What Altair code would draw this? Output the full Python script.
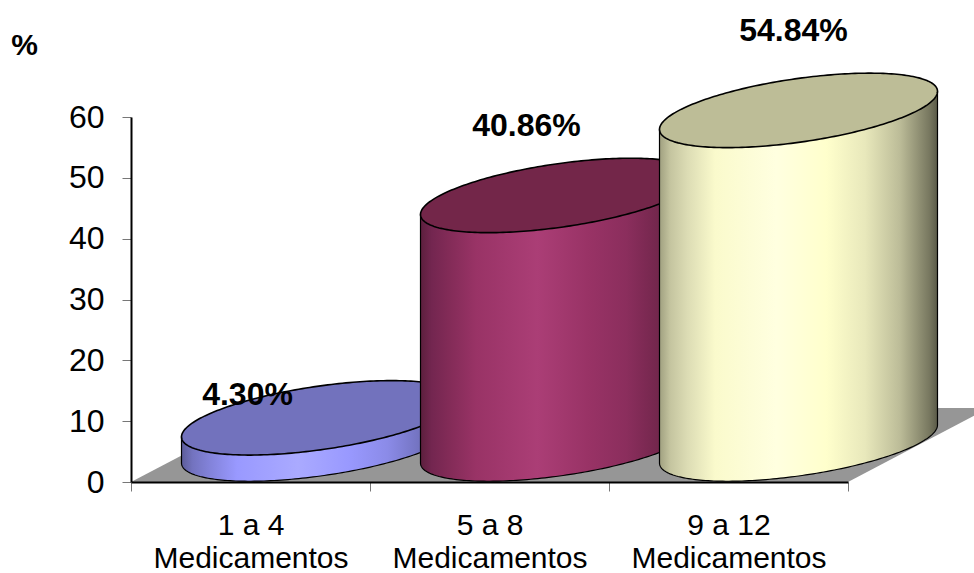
import altair as alt
import numpy as np
import pandas as pd

# Chart values
categories = ["1 a 4|Medicamentos", "5 a 8|Medicamentos", "9 a 12|Medicamentos"]
shares = [4.30, 40.86, 54.84]
y_ticks = [0, 10, 20, 30, 40, 50, 60]

# Plot geometry, in pixels
PLOT_W, PLOT_H = 717, 365
PX_X = PLOT_W / 3
PX_Y = PLOT_H / 60
DEPTH_X = 70      # oblique shift of each cylinder's centre
DEPTH_Y = 38
HALF_W = 139      # half width of a cylinder
TILT = 0.137      # slope of the ellipse's long axis
HALF_H = 32       # half height of the ellipse at its centre
FLOOR_X, FLOOR_Y = 141, 74

FONT = "Liberation Sans"
X_SCALE = alt.Scale(domain=[0, 3], nice=False, zero=False)
Y_SCALE = alt.Scale(domain=[0, 60], nice=False)


def ramp(*stops):
    offsets = [0, 0.04, 0.1, 0.2, 0.42, 0.6, 0.74, 0.865, 0.97, 1]
    return alt.Gradient(
        gradient="linear", x1=0, y1=0, x2=1, y2=0,
        stops=[alt.GradientStop(offset=o, color=c) for o, c in zip(offsets, stops)],
    )


styles = [
    (ramp("#5c5c99", "#7373bf", "#8282d9", "#9999ff", "#aaaaff", "#9999ff", "#8b8be8", "#7171bd", "#484878", "#36365a"), "#7272bd"),
    (ramp("#5c1f3d", "#732650", "#822b57", "#993366", "#ab3e76", "#993366", "#8b2e5d", "#71264b", "#48182f", "#361223"), "#732649"),
    (ramp("#a0a080", "#c5c5a0", "#dcdcb4", "#fafacc", "#ffffe0", "#ffffcc", "#e8e8bb", "#bcbc98", "#787860", "#5a5a48"), "#bdbd97"),
]


def cylinder(i, value):
    """Outline of one cylinder in data units, for its side wall and its top."""
    t = np.linspace(0, np.pi, 121)
    dx = -HALF_W * np.cos(t)
    arc = HALF_H * np.sqrt(np.clip(1 - (dx / HALF_W) ** 2, 0, 1))
    x = i + 0.5 + (DEPTH_X + dx) / PX_X
    base = DEPTH_Y / PX_Y + TILT * dx / PX_Y
    top = base + value
    return pd.DataFrame({
        "x": x,
        "wall_low": base - arc / PX_Y,
        "wall_high": top,
        "top_low": top - arc / PX_Y,
        "top_high": top + arc / PX_Y,
    })


def layer_area(df, low, high, **mark):
    return alt.Chart(df).mark_area(clip=False, **mark).encode(
        x=alt.X("x:Q", scale=X_SCALE, axis=None),
        y=alt.Y(f"{low}:Q", scale=Y_SCALE, axis=None),
        y2=alt.Y2(f"{high}:Q"),
    )


# Category axis with ticks on the band edges
axis_x = alt.Chart(pd.DataFrame({"c": categories, "v": shares})).mark_point(opacity=0).encode(
    x=alt.X("c:N", sort=categories,
            scale=alt.Scale(type="band", paddingInner=0, paddingOuter=0),
            axis=alt.Axis(
                title=None, labelAngle=0, tickBand="extent",
                labelExpr="split(datum.label, '|')",
                labelFont=FONT, labelFontSize=30, labelColor="#000000",
                labelLineHeight=33, labelPadding=19, labelLimit=400,
                domainColor="#000000", domainWidth=2, tickColor="#777777",
                tickSize=9, tickWidth=1, grid=False, zindex=1,
            )),
    y=alt.Y("v:Q", scale=Y_SCALE, axis=alt.Axis(
        values=y_ticks, title="%", titleAngle=0, titleX=-107, titleY=-72,
        titleAlign="center", titleBaseline="middle", titleFont=FONT,
        titleFontSize=30, titleFontWeight="bold", titleColor="#000000",
        labelFont=FONT, labelFontSize=32, labelColor="#000000", labelPadding=18,
        domainColor="#000000", domainWidth=2, tickColor="#777777",
        tickSize=9, tickWidth=1, grid=False, zindex=1,
    )),
)

# Grey floor of the oblique plot box
floor_px = np.array([0, FLOOR_X, PLOT_W, PLOT_W + FLOOR_X])
floor = pd.DataFrame({
    "x": floor_px / PX_X,
    "low": np.array([0, 0, 0, FLOOR_Y]) / PX_Y,
    "high": np.array([0, FLOOR_Y, FLOOR_Y, FLOOR_Y]) / PX_Y,
})
layers = [axis_x, layer_area(floor, "low", "high", fill="#969696")]

for i, (value, (wall_fill, top_fill)) in enumerate(zip(shares, styles)):
    df = cylinder(i, value)
    layers.append(layer_area(df, "wall_low", "wall_high", fill=wall_fill, stroke="#000000", strokeWidth=1.2))
    layers.append(layer_area(df, "top_low", "top_high", fill=top_fill, stroke="#000000", strokeWidth=1.6))

# Value labels sit above each cylinder, each nudged clear of its neighbours
label_shift_x = [-73, -33, -5]
label_shift_y = [23, 69, 79]
labels = pd.DataFrame({
    "x": [i + 0.5 + (DEPTH_X + sx) / PX_X for i, sx in enumerate(label_shift_x)],
    "y": [(DEPTH_Y + v * PX_Y + sy) / PX_Y for v, sy in zip(shares, label_shift_y)],
    "text": [f"{v:.2f}%" for v in shares],
})
layers.append(
    alt.Chart(labels).mark_text(font=FONT, fontSize=32, fontWeight="bold", color="#000000", clip=False).encode(
        x=alt.X("x:Q", scale=X_SCALE, axis=None),
        y=alt.Y("y:Q", scale=Y_SCALE, axis=None),
        text="text:N",
    )
)

chart = (
    alt.layer(*layers)
    .resolve_scale(x="independent")
    .resolve_axis(y="independent")
    .properties(
        width=PLOT_W, height=PLOT_H,
        autosize=alt.AutoSizeParams(type="none"),
        padding={"left": 131, "top": 117, "right": 126, "bottom": 91},
        background="#ffffff",
    )
    .configure_view(strokeWidth=0)
)

chart.save("out.html", embed_options={"renderer": "svg", "actions": False})
